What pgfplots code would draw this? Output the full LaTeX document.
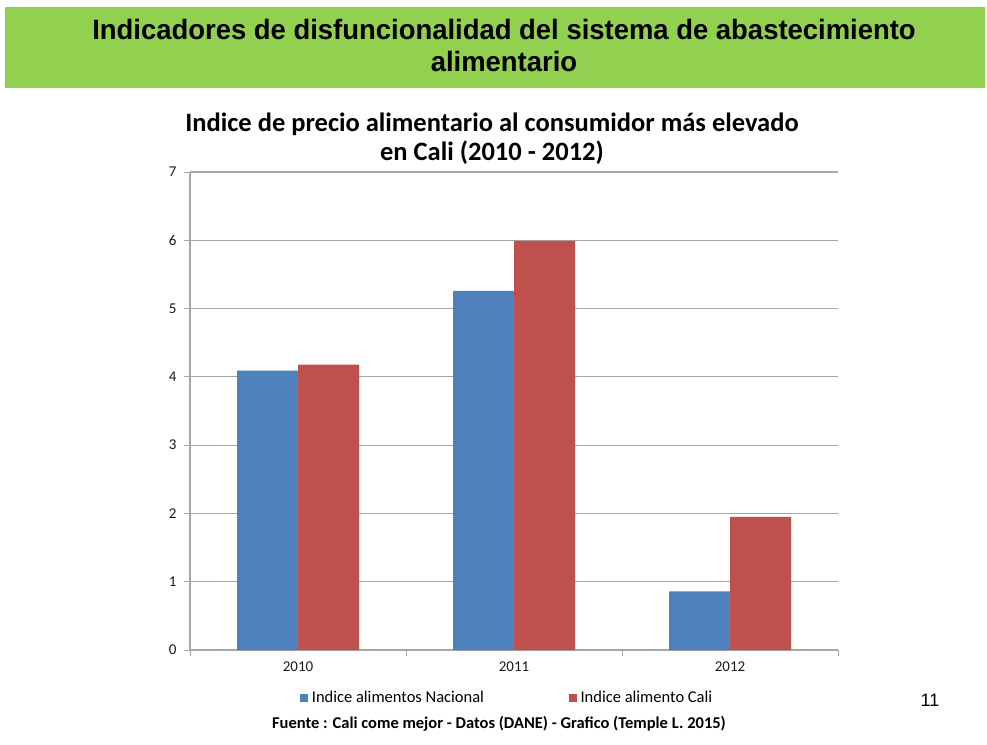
\documentclass[border=0pt]{standalone}
\usepackage{pgfplots}
\pgfplotsset{compat=1.18}
\usepackage{fontspec}
\setmainfont{Carlito}
\newfontfamily\arialb[FakeStretch=0.98]{Liberation Sans}
\newfontfamily\arial{Liberation Sans}
\definecolor{bannergreen}{HTML}{92D050}
\definecolor{nacional}{HTML}{4F81BD}
\definecolor{cali}{HTML}{C0504D}
\definecolor{gridgray}{HTML}{A6A6A6}

\begin{document}
\begin{tikzpicture}[x=1pt,y=1pt]
\useasboundingbox (0,0) rectangle (987,744);
\fill[white] (0,0) rectangle (987,744);
% banner
\fill[bannergreen] (5,656) rectangle (985,737);
\node[font=\arialb\bfseries\fontsize{28}{28}\selectfont, anchor=base, inner sep=0pt] at (504,704)
  {Indicadores de disfuncionalidad del sistema de abastecimiento};
\node[font=\arialb\bfseries\fontsize{28}{28}\selectfont, anchor=base, inner sep=0pt] at (504,672)
  {alimentario};
% chart title
\node[font=\bfseries\fontsize{26.5}{26.5}\selectfont, anchor=base, inner sep=0pt] at (492,612)
  {Indice de precio alimentario al consumidor más elevado};
\node[font=\bfseries\fontsize{26.5}{26.5}\selectfont, anchor=base, inner sep=0pt] at (492,583)
  {en Cali (2010 - 2012)};

\begin{axis}[
  at={(190pt,94pt)}, anchor=south west,
  scale only axis, width=648pt, height=478pt,
  ymin=0, ymax=7, xmin=-0.5, xmax=2.5,
  ybar=0pt, bar width=61pt,
  xtick={0,1,2}, xticklabels={2010,2011,2012},
  minor xtick={-0.5,0.5,1.5,2.5},
  ytick={0,1,2,3,4,5,6,7},
  axis x line*=bottom, axis y line*=left,
  axis line style={gridgray, line width=1.2pt, -},
  ymajorgrids, major grid style={gridgray, line width=1.2pt},
  major x tick style={draw=none},
  minor x tick style={gridgray, line width=1pt},
  major y tick style={gridgray, line width=1pt},
  tick align=outside,
  major tick length=6pt, minor tick length=6pt,
  /pgf/number format/assume math mode=true,
  xticklabel style={font=\fontsize{15}{15}\selectfont, text=black!90, yshift=-2pt},
  yticklabel style={font=\fontsize{15}{15}\selectfont, text=black!90, xshift=-4pt},
  legend style={at={(0.170,-0.0995)}, anchor=west, draw=none, fill=none,
    inner sep=0pt, legend columns=2, font=\fontsize{16.5}{16.5}\selectfont,
    /tikz/every odd column/.append style={column sep=2pt},
    /tikz/every even column/.append style={column sep=83pt}},
  legend image code/.code={\fill[#1] (0pt,-4pt) rectangle (7.5pt,4pt);},
]
\addplot[fill=nacional, draw=none] coordinates {(0,4.09) (1,5.26) (2,0.86)};
\addplot[fill=cali, draw=none] coordinates {(0,4.18) (1,5.99) (2,1.95)};
\legend{Indice alimentos Nacional, Indice alimento Cali}
\end{axis}

\node[font=\bfseries\fontsize{16.5}{16.5}\selectfont] at (499,20)
  {Fuente : Cali come mejor - Datos (DANE) - Grafico (Temple L. 2015)};
\node[font=\arial\fontsize{18}{18}\selectfont] at (930,44) {11};
\end{tikzpicture}
\end{document}
